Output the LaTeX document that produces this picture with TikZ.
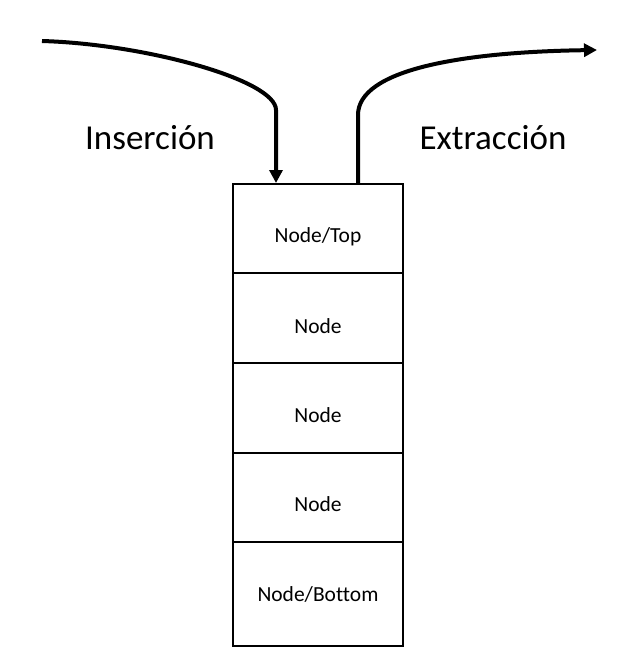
\documentclass[tikz,border=0pt]{standalone}
\usepackage{fontspec}
\setmainfont[Ligatures=NoCommon]{Carlito}
\usetikzlibrary{arrows.meta}
\begin{document}
\begin{tikzpicture}[x=1pt,y=-1pt,
  cell/.style={draw=black,line width=2pt,minimum width=170pt,inner sep=0pt,anchor=north},
  celltext/.style={font=\fontsize{21.5}{24}\selectfont,inner sep=0pt},
  biglabel/.style={font=\fontsize{35}{40}\selectfont,inner sep=0pt},
  flow/.style={line width=4pt,-{Triangle[length=13pt,width=13pt]}}]
\useasboundingbox (0,0) rectangle (633,672);
\fill[white] (0,0) rectangle (633,672);
% cells
\node[cell,minimum height=89pt] (r1) at (318,183) {};
\node[cell,minimum height=90pt] (r2) at (318,272) {};
\node[cell,minimum height=90pt] (r3) at (318,362) {};
\node[cell,minimum height=89pt] (r4) at (318,452) {};
\node[cell,minimum height=104pt] (r5) at (318,541) {};
% texts
\node[celltext] (t1) at (318,237) {Node/Top};
\node[celltext] (t2) at (318,326) {Node};
\node[celltext] (t3) at (318,415) {Node};
\node[celltext] (t4) at (318,504) {Node};
\node[celltext] (t5) at (318,594) {Node/Bottom};
\node[biglabel] (ins) at (150,138) {Inserción};
\node[biglabel] (ext) at (493,138) {Extracción};
% arrows
\coordinate (inStart) at (42,41);
\coordinate (inEnd) at (276,183);
\coordinate (outStart) at (358,183);
\coordinate (outEnd) at (597,50);
\draw[flow] (inStart) .. controls (145,44) and (276,80) .. (276,110) -- (inEnd);
\draw[flow] (outStart) -- (358,115) .. controls (358,70) and (460,52) .. (outEnd);
\end{tikzpicture}
\end{document}
